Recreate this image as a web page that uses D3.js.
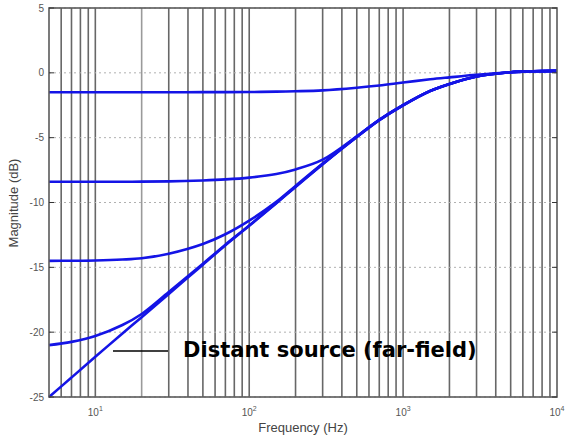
<!DOCTYPE html>
<html>
<head>
<meta charset="utf-8">
<script src="https://cdn.jsdelivr.net/npm/d3@7"></script>
<style>
  body { margin: 0; background: #fff; }
  svg { display: block; }
</style>
</head>
<body>
<div id="chart"></div>
<script>
const freqs = [5, 7, 10, 15, 20, 30, 50, 70, 100, 150, 200, 300, 500, 700, 1000, 1500, 2000, 3000, 5000, 7000, 10000];

// magnitude (dB) of each curve
const nearField1 = [-1.5, -1.5, -1.5, -1.5, -1.5, -1.5, -1.49, -1.49, -1.48, -1.45, -1.42, -1.35, -1.15, -0.98, -0.75, -0.5, -0.35, -0.15, 0.05, 0.12, 0.15];
const nearField2 = [-8.4, -8.4, -8.4, -8.4, -8.39, -8.37, -8.3, -8.22, -8.08, -7.8, -7.45, -6.7, -4.9, -3.62, -2.49, -1.39, -0.86, -0.28, 0.05, 0.12, 0.15];
const nearField3 = [-14.5, -14.49, -14.47, -14.4, -14.3, -13.95, -13.2, -12.45, -11.4, -9.95, -8.72, -7.0, -4.92, -3.63, -2.49, -1.39, -0.86, -0.28, 0.05, 0.12, 0.15];
const nearField4 = [-21.0, -20.75, -20.3, -19.45, -18.6, -16.9, -14.72, -13.25, -11.77, -10.03, -8.79, -7.04, -4.95, -3.65, -2.5, -1.4, -0.86, -0.28, 0.05, 0.12, 0.15];
const farField = [-25.0, -23.5, -21.9, -20.1, -18.85, -17.05, -14.8, -13.3, -11.8, -10.05, -8.8, -7.05, -4.95, -3.65, -2.5, -1.4, -0.86, -0.28, 0.05, 0.12, 0.15];

const yTicks = [5, 0, -5, -10, -15, -20, -25];
const xDecades = [10, 100, 1000, 10000];
const annotation = "Distant source (far-field)";

const width = 565;
const height = 441;
const margin = { top: 8, right: 8, bottom: 44, left: 49 };
const innerW = width - margin.left - margin.right;
const innerH = height - margin.top - margin.bottom;

const svg = d3.select("#chart").append("svg")
    .attr("width", width)
    .attr("height", height);

const g = svg.append("g")
    .attr("transform", `translate(${margin.left}, ${margin.top})`);

const x = d3.scaleLog().domain([5, 10000]).range([0, innerW]);
const y = d3.scaleLinear().domain([-25, 5]).range([innerH, 0]);

// vertical grid at every log tick
const vGrid = x.ticks().filter(d => d > 5 && d < 10000);
g.append("g").selectAll("line")
    .data(vGrid)
    .enter().append("line")
    .attr("x1", d => x(d)).attr("x2", d => x(d))
    .attr("y1", 0).attr("y2", innerH)
    .attr("stroke", d => d === 20 ? "#9a9a9a" : "#676767")
    .attr("stroke-width", 1.6);

// horizontal dotted grid
g.append("g").selectAll("line")
    .data(yTicks)
    .enter().append("line")
    .attr("x1", 0).attr("x2", innerW)
    .attr("y1", d => y(d)).attr("y2", d => y(d))
    .attr("stroke", "#b0b0b0")
    .attr("stroke-width", 1)
    .attr("stroke-dasharray", "2,3");

// curves
const line = d3.line()
    .x((d, i) => x(freqs[i]))
    .y(d => y(d))
    .curve(d3.curveCatmullRom.alpha(0.5));

const series = [nearField1, nearField2, nearField3, nearField4, farField];
g.append("g").selectAll("path")
    .data(series)
    .enter().append("path")
    .attr("d", d => line(d))
    .attr("fill", "none")
    .attr("stroke", "#1414e6")
    .attr("stroke-width", 2.6);

// frame
g.append("rect")
    .attr("x", 0).attr("y", 0)
    .attr("width", innerW).attr("height", innerH)
    .attr("fill", "none")
    .attr("stroke", "#5a5a5a")
    .attr("stroke-width", 1.6);

// y ticks (inward, both sides) and labels
const yAxis = g.append("g");
yTicks.forEach(t => {
    yAxis.append("line")
        .attr("x1", 0).attr("x2", 5)
        .attr("y1", y(t)).attr("y2", y(t))
        .attr("stroke", "#333");
    yAxis.append("line")
        .attr("x1", innerW).attr("x2", innerW - 5)
        .attr("y1", y(t)).attr("y2", y(t))
        .attr("stroke", "#333");
    yAxis.append("text")
        .attr("x", -5)
        .attr("y", y(t))
        .attr("dy", "0.35em")
        .attr("text-anchor", "end")
        .attr("font-family", "Liberation Sans, Arial, sans-serif")
        .attr("font-size", 10)
        .attr("fill", "#555")
        .text(t);
});

// x decade labels 10^n
const xAxis = g.append("g");
xDecades.forEach(d => {
    const t = xAxis.append("text")
        .attr("x", x(d))
        .attr("y", innerH + 19)
        .attr("text-anchor", "middle")
        .attr("font-family", "Liberation Sans, Arial, sans-serif")
        .attr("font-size", 10)
        .attr("fill", "#555");
    t.append("tspan").text("10");
    t.append("tspan")
        .attr("font-size", 7)
        .attr("dy", -5)
        .text(Math.round(Math.log10(d)));
});

// axis titles
svg.append("text")
    .attr("x", 303)
    .attr("y", 432)
    .attr("text-anchor", "middle")
    .attr("font-family", "Liberation Sans, Arial, sans-serif")
    .attr("font-size", 13)
    .attr("fill", "#444")
    .text("Frequency (Hz)");

svg.append("text")
    .attr("transform", "translate(18, 203) rotate(-90)")
    .attr("text-anchor", "middle")
    .attr("font-family", "Liberation Sans, Arial, sans-serif")
    .attr("font-size", 13)
    .attr("fill", "#444")
    .text("Magnitude (dB)");

// annotation
g.append("line")
    .attr("x1", 113 - margin.left).attr("x2", 168 - margin.left)
    .attr("y1", 351 - margin.top).attr("y2", 351 - margin.top)
    .attr("stroke", "#000")
    .attr("stroke-width", 1.6);

const note = svg.append("text")
    .attr("x", 183)
    .attr("y", 357)
    .attr("font-family", "DejaVu Sans, Verdana, sans-serif")
    .attr("font-weight", "bold")
    .attr("font-size", 19)
    .attr("fill", "#000")
    .text(annotation);
const len = note.node().getComputedTextLength();
note.attr("font-size", 19 * 294 / len);
</script>
</body>
</html>
